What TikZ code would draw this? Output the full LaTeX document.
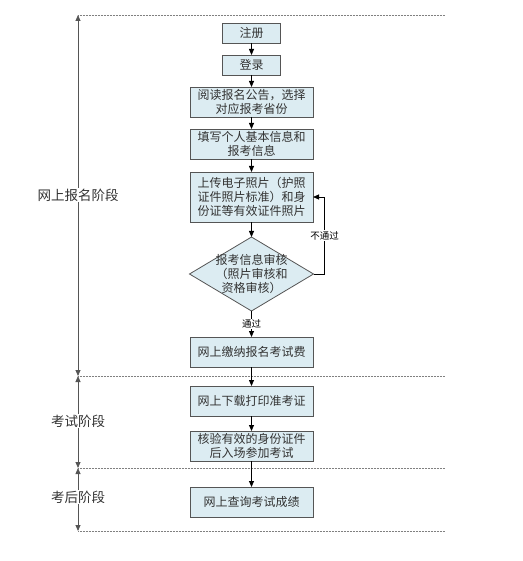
\documentclass[tikz,border=0pt]{standalone}
\usepackage{fontspec}
\setmainfont{Noto Sans CJK SC}
\usepackage{tikz}
\usetikzlibrary{positioning,shapes.geometric,arrows.meta}
\definecolor{boxfill}{HTML}{DCECF2}
\definecolor{boxline}{HTML}{555555}
\definecolor{textgray}{HTML}{333333}

\begin{document}
\begin{tikzpicture}[x=1pt, y=-1pt, >={Triangle[length=6pt,width=5pt]}, line width=0.8pt,
		font=\fontsize{12}{14}\selectfont, text=textgray,
		box/.style={draw=boxline, fill=boxfill, text width=115pt, align=center, inner xsep=4pt, inner ysep=0pt, outer sep=0pt, minimum height=30pt},
		smallbox/.style={box, text width=50pt, minimum height=20pt},
		decide/.style={draw=boxline, fill=boxfill, diamond, minimum width=124pt, minimum height=74pt, inner sep=0pt, outer sep=0pt},
		phase/.style={densely dotted, gray, line width=0.5pt},
		phaselabel/.style={fill=white, inner sep=1pt, text=textgray, font=\fontsize{13.5}{16}\selectfont},
		tag/.style={fill=white, inner sep=1pt, text=black, font=\fontsize{9.5}{11}\selectfont}]
		\useasboundingbox (0,0) rectangle (522,561);

		% phases on the left
		\coordinate (p0) at (78,15);
		\coordinate (p1) at (78,376);
		\coordinate (p2) at (78,468);
		\coordinate (p3) at (78,531);
		\coordinate (q0) at (445,15);
		\coordinate (q1) at (445,376);
		\coordinate (q2) at (445,468);
		\coordinate (q3) at (445,531);

		\draw[phase] (p0) -- (q0);
		\draw[phase] (p1) -- (q1);
		\draw[phase] (p2) -- (q2);
		\draw[phase] (p3) -- (q3);

		\draw[<->, draw=boxline] (p0) -- (p1);
		\draw[<->, draw=boxline] (p1) -- (p2);
		\draw[<->, draw=boxline] (p2) -- (p3);

		\node[phaselabel] (online) at (78,195) {网上报名阶段};
		\node[phaselabel] (during) at (78,421) {考试阶段};
		\node[phaselabel] (after) at (78,497) {考后阶段};

		% flow
		\node[smallbox] (register) at (251.5,33) {注册};
		\node[smallbox] (login) [below=12pt of register] {登录};
		\node[box] (notice) [below=12pt of login] {阅读报名公告，选择\\对应报考省份};
		\node[box] (info) [below=12pt of notice] {填写个人基本信息和\\报考信息};
		\node[box, minimum height=50pt] (photo) [below=13pt of info] {上传电子照片（护照\\证件照片标准）和身\\份证等有效证件照片};
		\node[decide] (check) [below=15pt of photo] {};
		\node[align=center] (checktext) at (check) {报考信息审核\\（照片审核和\\资格审核）};
		\node[box] (fee) [below=26pt of check] {网上缴纳报名考试费};
		\node[box] (ticket) [below=19pt of fee] {网上下载打印准考证};
		\node[box] (exam) [below=15pt of ticket] {核验有效的身份证件\\后入场参加考试};
		\node[box] (score) [below=26pt of exam] {网上查询考试成绩};

		\draw[->] (register) -- (login);
		\draw[->] (login) -- (notice);
		\draw[->] (notice) -- (info);
		\draw[->] (info) -- (photo);
		\draw[->] (photo) -- (check);
		\draw[->] (check.east) -- ++(11,0) |- node[tag, pos=0.25] (fail) {不通过} (photo.east);
		\draw[->] (check) -- node[tag] (pass) {通过} (fee);
		\draw[->] (fee) -- (ticket);
		\draw[->] (ticket) -- (exam);
		\draw[->] (exam) -- (score);

	\end{tikzpicture}
\end{document}
